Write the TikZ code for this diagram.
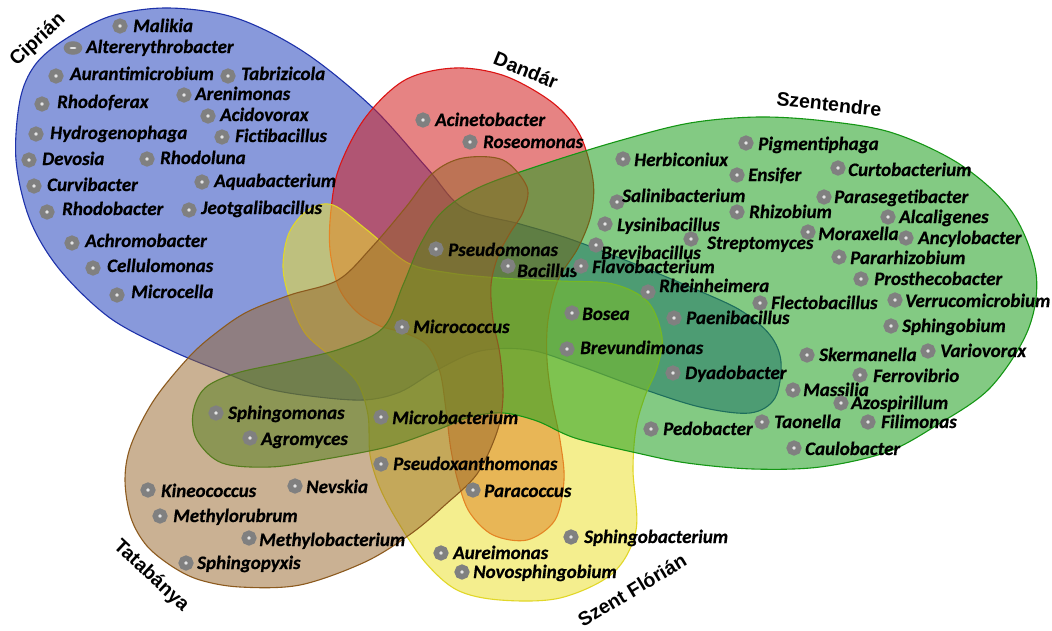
\documentclass[tikz,border=0pt]{standalone}
\usepackage{fontspec}
\setmainfont{Carlito}
\newfontfamily\labfont{Carlito}[FakeBold=0.6]
\newfontfamily\setfont{Liberation Sans}
\usetikzlibrary{shapes.geometric}
\definecolor{cblue}{RGB}{40,70,190}
\definecolor{cblueline}{RGB}{30,50,170}
\definecolor{cred}{RGB}{210,30,30}
\definecolor{credline}{RGB}{220,20,20}
\definecolor{cyel}{RGB}{235,225,50}
\definecolor{cyelline}{RGB}{225,215,40}
\definecolor{cgreen}{RGB}{30,160,30}
\definecolor{cgreenline}{RGB}{20,150,20}
\definecolor{cbrown}{RGB}{150,100,40}
\definecolor{cbrownline}{RGB}{140,90,30}
\definecolor{dotgray}{RGB}{128,128,128}
\tikzset{
  setshape/.style={line width=1.1pt, fill opacity=0.55, draw opacity=1},
  dot/.style={circle, draw=dotgray, line width=5.5pt, minimum size=9.5pt, inner sep=0pt, fill=gray!20},
  lab/.style={anchor=base west, inner sep=0pt, font=\labfont\fontsize{19}{21}\selectfont\bfseries\itshape},
  setlab/.style={inner sep=0pt, font=\setfont\fontsize{19.5}{22}\selectfont\bfseries},
}
\newcommand\spp[6]{\node[dot] (d#1) at (#2,#3) {}; \node[lab] (t#1) at (#4,#5) {#6};}
\begin{document}
\begin{tikzpicture}[x=1pt,y=-1pt]
\useasboundingbox (0,0) rectangle (1052,630);
\fill[white] (0,0) rectangle (1052,630);
% Ciprian (blue)
\draw[setshape, fill=cblue, draw=cblueline] plot[smooth cycle, tension=0.55] coordinates {
(64,40) (111,16) (169,8) (236,18) (304,52) (372,107) (427,168) (463,208) (520,224) (570,239) (630,262) (690,287) (740,310) (770,335) (781,362) (775,398) (750,413) (700,407) (640,388) (580,366) (530,350) (480,351) (437,370) (400,392) (363,400) (310,396) (265,388) (223,372) (170,350) (110,318) (60,270) (30,220) (16,160) (20,100) (35,65)};
% Dandar (red)
\draw[setshape, fill=cred, draw=credline] plot[smooth cycle, tension=0.55] coordinates {
(405,80) (455,68) (505,76) (553,103) (580,135) (593,180) (591,215) (578,248) (558,280) (548,320) (547,360) (552,400) (560,440) (564,480) (555,520) (527,540) (493,535) (470,513) (459,485) (451,450) (446,410) (440,372) (427,345) (405,333) (380,326) (357,312) (339,288) (330,250) (331,210) (339,168) (365,118)};
% Szent Florian (yellow)
\draw[setshape, fill=cyel, draw=cyelline] plot[smooth cycle, tension=0.55] coordinates {
(333,205) (367,230) (408,263) (450,273) (500,278) (560,281) (613,284) (648,302) (662,337) (657,368) (645,396) (636,428) (633,470) (636,530) (613,573) (560,598) (500,600) (457,590) (425,562) (398,522) (380,488) (370,455) (368,415) (357,382) (330,356) (305,333) (290,300) (283,267) (289,233) (308,210)};
% Szentendre (green)
\draw[setshape, fill=cgreen, draw=cgreenline] plot[smooth cycle, tension=0.55] coordinates {
(383,328) (403,285) (420,245) (442,212) (480,187) (547,163) (622,140) (690,123) (758,117) (825,121) (893,133) (961,165) (1012,212) (1036,273) (1028,330) (990,388) (937,425) (887,452) (820,467) (753,469) (687,463) (637,453) (575,438) (537,421) (503,413) (470,417) (437,430) (387,447) (320,460) (270,467) (222,463) (197,440) (193,413) (205,388) (237,373) (287,362) (340,349)};
% Tatabanya (brown)
\draw[setshape, fill=cbrown, draw=cbrownline, fill opacity=0.5] plot[smooth cycle, tension=0.55] coordinates {
(463,158) (503,160) (527,187) (523,212) (510,233) (498,256) (491,285) (493,320) (500,355) (503,397) (497,432) (477,474) (445,505) (412,533) (365,562) (300,585) (240,587) (200,580) (173,567) (147,546) (131,518) (125,480) (131,445) (154,400) (189,357) (216,333) (247,312) (290,295) (338,280) (372,247) (406,207) (433,173)};
% set labels
\node[setlab, rotate=43] (lCiprian) at (38,40) {Ciprián};
\node[setlab, rotate=-22] (lDandar) at (526,70) {Dandár};
\node[setlab, rotate=-6] (lSzentendre) at (829,104) {Szentendre};
\node[setlab, rotate=-43] (lTatabanya) at (151,576) {Tatabánya};
\node[setlab, rotate=31] (lSzentFlorian) at (632,590) {Szent Flórián};
% Ciprian only
\spp{malikia}{120}{26}{133}{32}{Malikia}
\node[dot, ellipse, minimum width=13pt, minimum height=8pt] (daltererythrobacter) at (73,48) {};
\node[lab] (taltererythrobacter) at (86,53) {Altererythrobacter};
\spp{aurantimicrobium}{56}{76}{70}{80}{Aurantimicrobium}
\spp{tabrizicola}{228}{76}{241}{80}{Tabrizicola}
\spp{rhodoferax}{42}{104}{57}{108}{Rhodoferax}
\spp{arenimonas}{184}{95}{195}{100}{Arenimonas}
\spp{acidovorax}{208}{116}{220}{121}{Acidovorax}
\spp{hydrogenophaga}{36}{134}{50}{139}{Hydrogenophaga}
\spp{fictibacillus}{222}{137}{235}{142}{Fictibacillus}
\spp{devosia}{29}{160}{42}{165}{Devosia}
\spp{rhodoluna}{147}{159}{160}{164}{Rhodoluna}
\spp{curvibacter}{34}{186}{47}{191}{Curvibacter}
\spp{aquabacterium}{202}{182}{214}{187}{Aquabacterium}
\spp{rhodobacter}{47}{212}{62}{215}{Rhodobacter}
\spp{jeotgalibacillus}{189}{210}{201}{214}{Jeotgalibacillus}
\spp{achromobacter}{72}{243}{85}{247}{Achromobacter}
\spp{cellulomonas}{93}{268}{107}{272}{Cellulomonas}
\spp{microcella}{117}{295}{131}{298}{Microcella}
% Dandar
\spp{acinetobacter}{423}{120}{435}{126}{Acinetobacter}
\spp{roseomonas}{470}{142}{483}{148}{Roseomonas}
\spp{pseudomonas}{436}{249}{448}{256}{Pseudomonas}
\spp{bacillus}{508}{266}{517}{277}{Bacillus}
\spp{micrococcus}{402}{327}{413}{333}{Micrococcus}
% Szentendre
\spp{pigmentiphaga}{746}{143}{758}{150}{Pigmentiphaga}
\spp{herbiconiux}{623}{159}{634}{166}{Herbiconiux}
\spp{ensifer}{737}{175}{748}{181}{Ensifer}
\spp{curtobacterium}{838}{168}{848}{176}{Curtobacterium}
\spp{salinibacterium}{617}{202}{622}{202}{Salinibacterium}
\spp{parasegetibacter}{824}{197}{834}{203}{Parasegetibacter}
\spp{rhizobium}{737}{212}{749}{218}{Rhizobium}
\spp{alcaligenes}{888}{217}{899}{223}{Alcaligenes}
\spp{lysinibacillus}{605}{224}{617}{231}{Lysinibacillus}
\spp{moraxella}{808}{232}{818}{240}{Moraxella}
\spp{ancylobacter}{906}{238}{918}{244}{Ancylobacter}
\spp{streptomyces}{691}{239}{707}{249}{Streptomyces}
\spp{brevibacillus}{596}{245}{601}{259}{Brevibacillus}
\spp{pararhizobium}{839}{257}{850}{264}{Pararhizobium}
\spp{flavobacterium}{581}{266}{592}{273}{Flavobacterium}
\spp{prosthecobacter}{861}{279}{874}{285}{Prosthecobacter}
\spp{rheinheimera}{648}{292}{659}{292}{Rheinheimera}
\spp{flectobacillus}{760}{303}{771}{309}{Flectobacillus}
\spp{verrucomicrobium}{895}{300}{905}{307}{Verrucomicrobium}
\spp{bosea}{572}{313}{582}{320}{Bosea}
\spp{paenibacillus}{674}{318}{686}{324}{Paenibacillus}
\spp{sphingobium}{891}{326}{902}{332}{Sphingobium}
\spp{brevundimonas}{567}{349}{580}{354}{Brevundimonas}
\spp{skermanella}{807}{355}{819}{361}{Skermanella}
\spp{variovorax}{928}{351}{940}{357}{Variovorax}
\spp{dyadobacter}{673}{373}{685}{379}{Dyadobacter}
\spp{ferrovibrio}{860}{375}{873}{382}{Ferrovibrio}
\spp{massilia}{793}{390}{803}{396}{Massilia}
\spp{azospirillum}{841}{403}{851}{409}{Azospirillum}
\spp{taonella}{762}{422}{774}{428}{Taonella}
\spp{filimonas}{868}{422}{881}{428}{Filimonas}
\spp{pedobacter}{651}{429}{663}{435}{Pedobacter}
\spp{caulobacter}{794}{448}{805}{455}{Caulobacter}
% Tatabanya / lower
\spp{sphingomonas}{216}{413}{228}{419}{Sphingomonas}
\spp{microbacterium}{381}{417}{392}{424}{Microbacterium}
\spp{agromyces}{250}{438}{261}{445}{Agromyces}
\spp{pseudoxanthomonas}{381}{464}{393}{470}{Pseudoxanthomonas}
\spp{kineococcus}{148}{490}{161}{497}{Kineococcus}
\spp{nevskia}{295}{486}{306}{493}{Nevskia}
\spp{paracoccus}{473}{490}{484}{497}{Paracoccus}
\spp{methylorubrum}{160}{516}{173}{522}{Methylorubrum}
\spp{methylobacterium}{249}{538}{259}{546}{Methylobacterium}
\spp{sphingobacterium}{571}{537}{584}{543}{Sphingobacterium}
\spp{aureimonas}{441}{553}{453}{559}{Aureimonas}
\spp{sphingopyxis}{186}{563}{197}{569}{Sphingopyxis}
\spp{novosphingobium}{462}{572}{473}{578}{Novosphingobium}
\end{tikzpicture}
\end{document}
